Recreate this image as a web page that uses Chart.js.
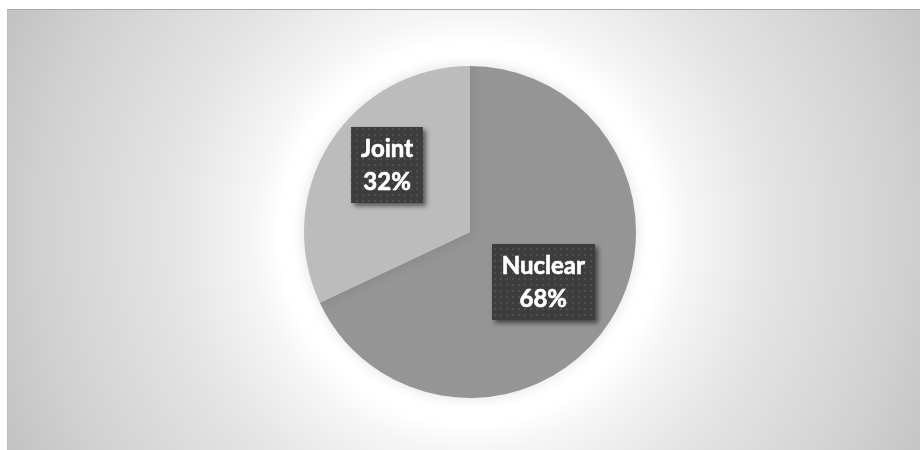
<!doctype html>
<html lang="en">
<head>
	<meta charset="utf-8">
	<title>Family Type</title>
	<style>
		* {
			margin: 0;
			padding: 0;
		}

		body {
			width: 920px;
			height: 450px;
			background: #ffffff;
			overflow: hidden;
			position: relative;
		}

		/* grey panel with the soft white halo behind the pie */
		.chartPanel {
			position: absolute;
			left: 7px;
			top: 9px;
			width: 913px;
			height: 441px;
			border-top: 1px solid #a9a9a9;
			border-left: 1px solid #bdbdbd;
			background: radial-gradient(circle 540px at 463px 223px, #ffffff 0px, #ffffff 190px, #f5f5f5 220px, #e4e4e4 300px, #d1d1d1 430px, #bdbdbd 540px);
		}

		.chartBox {
			position: absolute;
			left: 0;
			top: 0;
			width: 920px;
			height: 450px;
		}
	</style>
</head>

<body>
	<div class="chartPanel"></div>
	<div class="chartBox">
		<canvas id="familyChart" width="920" height="450"></canvas>
	</div>

	<script src="https://cdn.jsdelivr.net/npm/chart.js"></script>
	<script>
		// ===== data =====
		const categories = ['Nuclear', 'Joint'];
		const shares = [68, 32];
		const sliceColors = ['#959595', '#bcbcbc'];

		// where each label box sits: fraction of the radius along the slice middle, plus a nudge
		const labelSpots = [
			{ f: 0.53, dx: -1, dy: 3 },
			{ f: 0.62, dx: 4, dy: -12 }
		];

		// small dotted fill used by the label boxes
		function dotPattern(ctx) {
			const tile = document.createElement('canvas');
			tile.width = 6;
			tile.height = 6;
			const t = tile.getContext('2d');
			t.fillStyle = '#3d3d3d';
			t.fillRect(0, 0, 6, 6);
			t.fillStyle = '#4f4f4f';
			t.fillRect(2, 2, 2, 2);
			return ctx.createPattern(tile, 'repeat');
		}

		// faint shadow round the pie
		const pieShadow = {
			id: 'pieShadow',
			beforeDatasetsDraw(chart) {
				const ctx = chart.ctx;
				ctx.save();
				ctx.shadowColor = 'rgba(0, 0, 0, 0.12)';
				ctx.shadowBlur = 14;
			},
			afterDatasetsDraw(chart) {
				chart.ctx.restore();
			}
		};

		// dark boxes with category name and percentage
		const labelBoxes = {
			id: 'labelBoxes',
			afterDraw(chart) {
				const ctx = chart.ctx;
				const meta = chart.getDatasetMeta(0);
				const fill = dotPattern(ctx);
				ctx.save();
				ctx.font = 'bold 24px Lato';
				ctx.textAlign = 'center';
				ctx.textBaseline = 'alphabetic';
				meta.data.forEach((arc, i) => {
					const p = arc.getProps(['x', 'y', 'startAngle', 'endAngle', 'outerRadius'], true);
					const mid = (p.startAngle + p.endAngle) / 2;
					const spot = labelSpots[i];
					const cx = p.x + Math.cos(mid) * p.outerRadius * spot.f + spot.dx;
					const cy = p.y + Math.sin(mid) * p.outerRadius * spot.f + spot.dy;
					const lines = [categories[i], shares[i] + '%'];
					const w = Math.max(...lines.map(s => ctx.measureText(s).width)) + 20;
					const h = 76;

					ctx.save();
					ctx.shadowColor = 'rgba(0, 0, 0, 0.55)';
					ctx.shadowBlur = 5;
					ctx.shadowOffsetX = 3;
					ctx.shadowOffsetY = 3;
					ctx.fillStyle = fill;
					ctx.fillRect(Math.round(cx - w / 2), Math.round(cy - h / 2), Math.round(w), h);
					ctx.restore();

					ctx.fillStyle = '#ffffff';
					ctx.strokeStyle = '#ffffff';
					ctx.lineWidth = 0.6;
					lines.forEach((s, k) => {
						ctx.fillText(s, cx, cy - 8 + k * 33);
						ctx.strokeText(s, cx, cy - 8 + k * 33);
					});
				});
				ctx.restore();
			}
		};

		const config = {
			type: 'pie',
			data: {
				labels: categories,
				datasets: [{
					data: shares,
					backgroundColor: sliceColors,
					borderWidth: 0
				}]
			},
			options: {
				responsive: false,
				animation: false,
				layout: {
					padding: { top: 66, bottom: 52, left: 304, right: 284 }
				},
				plugins: {
					legend: { display: false },
					tooltip: { enabled: false }
				}
			},
			plugins: [pieShadow, labelBoxes]
		};

		new Chart(document.getElementById('familyChart'), config);
	</script>
</body>
</html>
